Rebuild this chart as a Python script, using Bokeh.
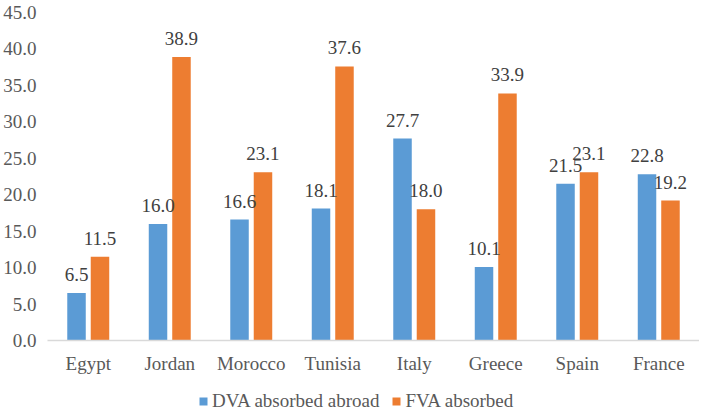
from bokeh.plotting import figure
from bokeh.layouts import column
from bokeh.models import ColumnDataSource, FactorRange, Range1d, LabelSet, Legend, LegendItem, NumeralTickFormatter
from bokeh.transform import dodge
from bokeh.embed import file_html
from bokeh.resources import INLINE

countries = ["Egypt", "Jordan", "Morocco", "Tunisia", "Italy", "Greece", "Spain", "France"]
dva = [6.5, 16.0, 16.6, 18.1, 27.7, 10.1, 21.5, 22.8]
fva = [11.5, 38.9, 23.1, 37.6, 18.0, 33.9, 23.1, 19.2]
series_names = ["DVA absorbed abroad", "FVA absorbed"]
y_ticks = [0, 5, 10, 15, 20, 25, 30, 35, 40, 45]

src = ColumnDataSource(dict(
    c=countries, dva=dva, fva=fva,
    dva_t=[f"{v:.1f}" for v in dva], fva_t=[f"{v:.1f}" for v in fva],
))

FONT = "Liberation Serif"
FS = "19px"
BLUE = "#5B9BD5"
ORANGE = "#ED7D31"

p = figure(x_range=FactorRange(*countries, range_padding=0), y_range=Range1d(0, 45),
           frame_width=652, frame_height=328, output_backend="svg", toolbar_location=None,
           min_border_left=41, min_border_right=0, min_border_top=12, min_border_bottom=42)
p.outline_line_color = None
p.grid.grid_line_color = None

r1 = p.vbar(x=dodge("c", -0.144, range=p.x_range), top="dva", width=0.227, source=src,
            fill_color=BLUE, line_color=None)
r2 = p.vbar(x=dodge("c", 0.144, range=p.x_range), top="fva", width=0.227, source=src,
            fill_color=ORANGE, line_color=None)

for col, txt, off in [("dva", "dva_t", -0.144), ("fva", "fva_t", 0.144)]:
    lbl = LabelSet(x=dodge("c", off, range=p.x_range), y=col, text=txt, source=src,
                   text_align="center", text_baseline="alphabetic", y_offset=12,
                   text_font=FONT, text_font_size=FS, text_color="#404040")
    p.add_layout(lbl)

p.yaxis.ticker = y_ticks
p.yaxis.formatter = NumeralTickFormatter(format="0.0")
p.yaxis.axis_line_color = None
p.yaxis.major_tick_line_color = None
p.yaxis.minor_tick_line_color = None
p.yaxis.major_label_text_font = FONT
p.yaxis.major_label_text_font_size = FS
p.yaxis.major_label_text_color = "#595959"
p.yaxis.major_label_standoff = 5

p.xaxis.axis_line_color = "#D9D9D9"
p.xaxis.axis_line_width = 1.5
p.xaxis.major_tick_line_color = None
p.xaxis.minor_tick_line_color = None
p.xaxis.major_tick_in = 0
p.xaxis.major_tick_out = 0
p.xaxis.major_label_text_font = FONT
p.xaxis.major_label_text_font_size = FS
p.xaxis.major_label_text_color = "#595959"
p.xaxis.major_label_standoff = 12

# legend strip below the chart (swatches come from off-range, zero-height proxy bars)
lp = figure(width=693, height=30, output_backend="svg", toolbar_location=None,
            x_axis_type=None, y_axis_type=None, x_range=Range1d(0, 1), y_range=Range1d(0, 1),
            min_border=0)
lp.outline_line_color = None
lp.grid.grid_line_color = None
proxy = ColumnDataSource(dict(x=[-10], top=[0]))
l1 = lp.vbar(x="x", top="top", width=0.1, source=proxy, fill_color=BLUE, line_color=None)
l2 = lp.vbar(x="x", top="top", width=0.1, source=proxy, fill_color=ORANGE, line_color=None)
legend = Legend(items=[LegendItem(label=series_names[0], renderers=[l1]),
                       LegendItem(label=series_names[1], renderers=[l2])],
                orientation="horizontal", location=(151, 0),
                label_text_font=FONT, label_text_font_size=FS, label_text_color="#595959",
                label_height=20, glyph_width=10, glyph_height=10, spacing=12, label_standoff=4,
                border_line_color=None, background_fill_alpha=0, margin=0, padding=0)
lp.add_layout(legend, "center")

layout = column(p, lp, spacing=0)
open("out.html", "w").write(file_html(layout, INLINE))
